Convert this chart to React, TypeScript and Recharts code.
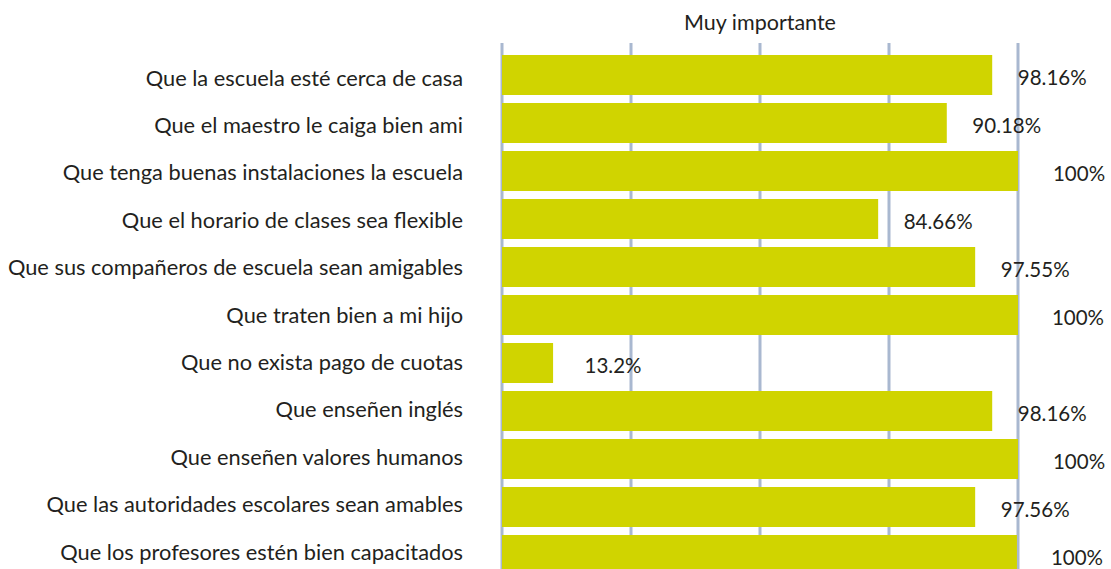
import { BarChart, Bar, XAxis, YAxis, CartesianGrid, LabelList } from 'recharts'

const categories = [
  'Que la escuela esté cerca de casa',
  'Que el maestro le caiga bien ami',
  'Que tenga buenas instalaciones la escuela',
  'Que el horario de clases sea flexible',
  'Que sus compañeros de escuela sean amigables',
  'Que traten bien a mi hijo',
  'Que no exista pago de cuotas',
  'Que enseñen inglés',
  'Que enseñen valores humanos',
  'Que las autoridades escolares sean amables',
  'Que los profesores estén bien capacitados',
]

// bar lengths as drawn in the picture (share of the 0-100 axis)
const barLengths = [95, 86.2, 100.2, 72.9, 91.7, 100, 9.9, 95, 100.2, 91.7, 99.8]

// printed value labels
const valueLabels = ['98.16%', '90.18%', '100%', '84.66%', '97.55%', '100%', '13.2%', '98.16%', '100%', '97.56%', '100%']

const xTicks = [0, 25, 50, 75, 100]

const TEXT = '#231f20'
const FONT = 'Lato, "Open Sans", sans-serif'

const data = categories.map((name, i) => ({ name, value: barLengths[i], label: valueLabels[i] }))

function ValueLabel(props: any) {
  const { x, y, width, height, index } = props
  return (
    <text
      x={x + width + 60}
      y={y + height / 2 + 2}
      textAnchor="middle"
      dominantBaseline="central"
      fontSize={20.5}
      fontFamily={FONT}
      fill={TEXT}
    >
      {valueLabels[index]}
    </text>
  )
}

// category labels in the source sit a touch higher as you go down
function CategoryTick(props: any) {
  const { x, y, payload, index } = props
  return (
    <text
      x={x}
      y={y + 2 - index * 0.6}
      textAnchor="end"
      dominantBaseline="central"
      fontSize={21.8}
      fontFamily={FONT}
      fill={TEXT}
    >
      {payload.value}
    </text>
  )
}

export default function App() {
  return (
    <div style={{ position: 'fixed', left: 0, top: 0, width: 1111, height: 569, overflow: 'hidden', background: '#fff' }}>
      <BarChart
        width={1111}
        height={585}
        data={data}
        layout="vertical"
        barCategoryGap={4}
        margin={{ top: 43, right: 93, bottom: 6, left: 0 }}
      >
        <text x={760} y={22} textAnchor="middle" dominantBaseline="central" fontSize={21.5} fontFamily={FONT} fill={TEXT}>
          Muy importante
        </text>
        <CartesianGrid horizontal={false} stroke="#a9b8d0" strokeWidth={3} />
        <XAxis type="number" domain={[0, 100]} ticks={xTicks} allowDataOverflow hide />
        <YAxis
          type="category"
          dataKey="name"
          width={502}
          axisLine={false}
          tickLine={false}
          tickMargin={33}
          padding={{ top: 8, bottom: 0 }}
          tick={CategoryTick}
          interval={0}
        />
        <Bar dataKey="value" fill="#d0d400" barSize={40} isAnimationActive={false}>
          <LabelList dataKey="label" content={ValueLabel} />
        </Bar>
      </BarChart>
    </div>
  )
}
